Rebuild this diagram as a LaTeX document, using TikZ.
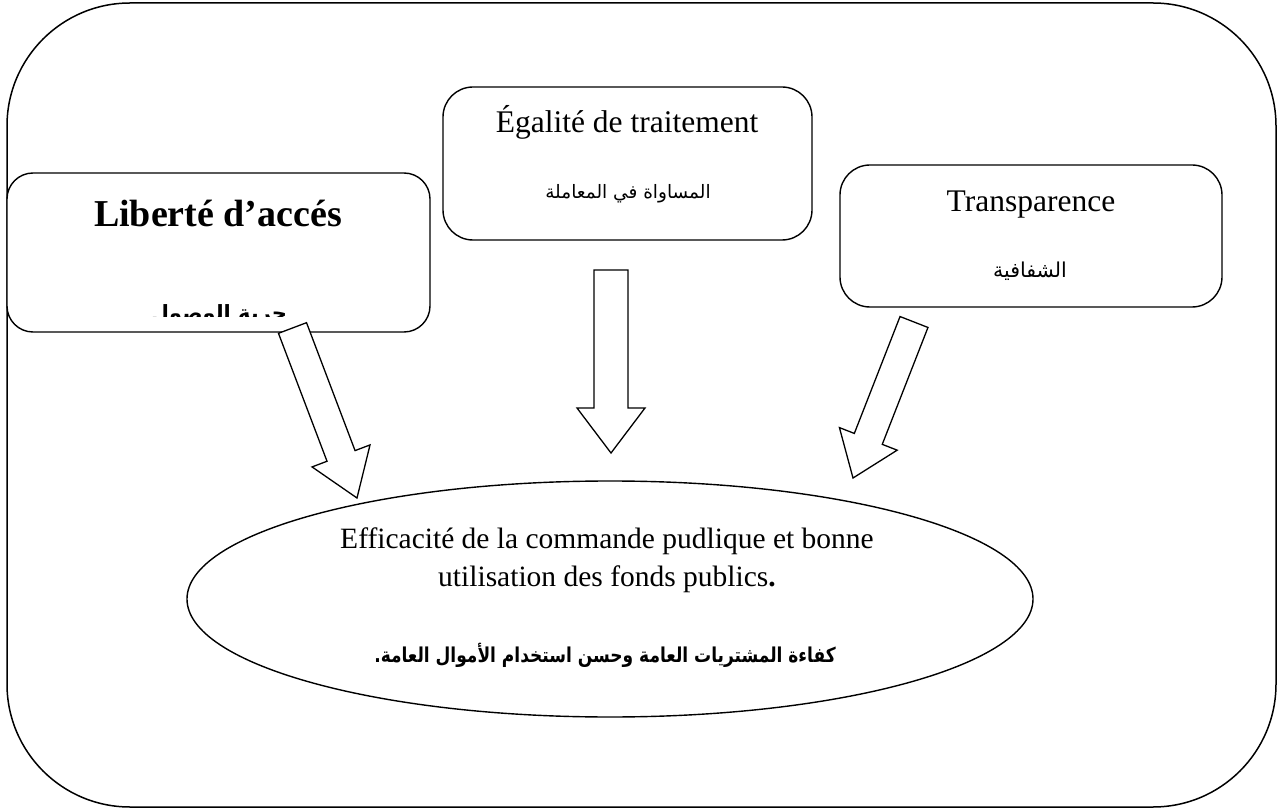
\documentclass[tikz,border=0pt]{standalone}
\usepackage{fontspec}
\setmainfont{Liberation Serif}
\newfontfamily\arabicfont[Script=Arabic]{DejaVu Sans}
\TeXXeTstate=1
\usetikzlibrary{shapes.geometric,calc}
\tikzset{
  outerbox/.style={draw, line width=1.5pt, rounded corners=123pt},
  topicbox/.style={draw, line width=1.4pt, fill=white, inner sep=0pt},
  barrow/.style={draw, line width=1.3pt, fill=white, line join=miter},
  goalshape/.style={draw, ellipse, line width=1.4pt, inner sep=0pt},
  latin/.style={font=\fontsize{31.5}{37}\selectfont, inner sep=0pt, anchor=base},
  latinbold/.style={font=\fontsize{38}{44}\selectfont\bfseries, inner sep=0pt, anchor=base},
  goaltext/.style={font=\fontsize{29.5}{38}\selectfont, inner sep=0pt, anchor=base},
  arab/.style={font=\arabicfont\fontsize{19.5}{24}\selectfont, inner sep=0pt, anchor=base},
}
\newcommand{\blockarrow}[5]{%
  \draw[barrow]
    ($(#1)!#3!90:(#2)$) --
    ($($(#2)!#5!(#1)$)!#3!90:(#2)$) --
    ($($(#2)!#5!(#1)$)!#4!90:(#2)$) --
    (#2) --
    ($($(#2)!#5!(#1)$)!#4!-90:(#2)$) --
    ($($(#2)!#5!(#1)$)!#3!-90:(#2)$) --
    ($(#1)!#3!-90:(#2)$) -- cycle;}
\begin{document}
\begin{tikzpicture}[x=1pt,y=-1pt]
  \useasboundingbox (0,0) rectangle (1278,810);
  % outer frame
  \draw[outerbox] (7,3) rectangle (1276,807);

  % boxes
  \node[topicbox, rounded corners=26pt, minimum width=423pt, minimum height=159pt] (libbox) at (218.5,252.5) {};
  \node[topicbox, rounded corners=30pt, minimum width=369pt, minimum height=153pt] (egabox) at (627.5,163.5) {};
  \node[topicbox, rounded corners=30pt, minimum width=382pt, minimum height=142pt] (trabox) at (1031,236) {};

  % box texts
  \node[latinbold] (libfr) at (218,227) {Liberté d’accés};
  \begin{scope}
    \clip (7,173) rectangle (430,317);
    \node[arab, font=\arabicfont\fontsize{21}{24}\selectfont\bfseries] (libar) at (219,321) {\beginR حرية الوصول\endR};
  \end{scope}
  \node[latin] (egafr) at (627,133) {Égalité de traitement};
  \node[arab, font=\arabicfont\fontsize{18.5}{24}\selectfont] (egaar) at (628,199) {\beginR المساواة في المعاملة\endR};
  \node[latin] (trafr) at (1031,212) {Transparence};
  \node[arab, font=\arabicfont\fontsize{20.5}{24}\selectfont] (traar) at (1030,278) {\beginR الشفافية\endR};

  % goal ellipse
  \node[goalshape, minimum width=846pt, minimum height=236pt] (goal) at (610,599) {};
  \node[goaltext] (goalfr1) at (607,548) {Efficacité de la commande pudlique et bonne};
  \node[goaltext] (goalfr2) at (607,586) {utilisation des fonds publics\textbf{.}};
  \node[arab, font=\arabicfont\fontsize{20.5}{26}\selectfont\bfseries] (goalar) at (605,662) {\scalebox{0.83}[1]{\beginR كفاءة المشتريات العامة وحسن استخدام الأموال العامة.\endR}};

  % block arrows
  \coordinate (la-t) at (292.5,328);
  \coordinate (la-p) at (357,498);
  \coordinate (ma-t) at (611,270);
  \coordinate (ma-p) at (611,453);
  \coordinate (ra-t) at (914,322);
  \coordinate (ra-p) at (853,478);
  \blockarrow{la-t}{la-p}{15pt}{31pt}{45pt}
  \blockarrow{ma-t}{ma-p}{17pt}{34pt}{45pt}
  \blockarrow{ra-t}{ra-p}{15pt}{31pt}{42pt}
\end{tikzpicture}
\end{document}
